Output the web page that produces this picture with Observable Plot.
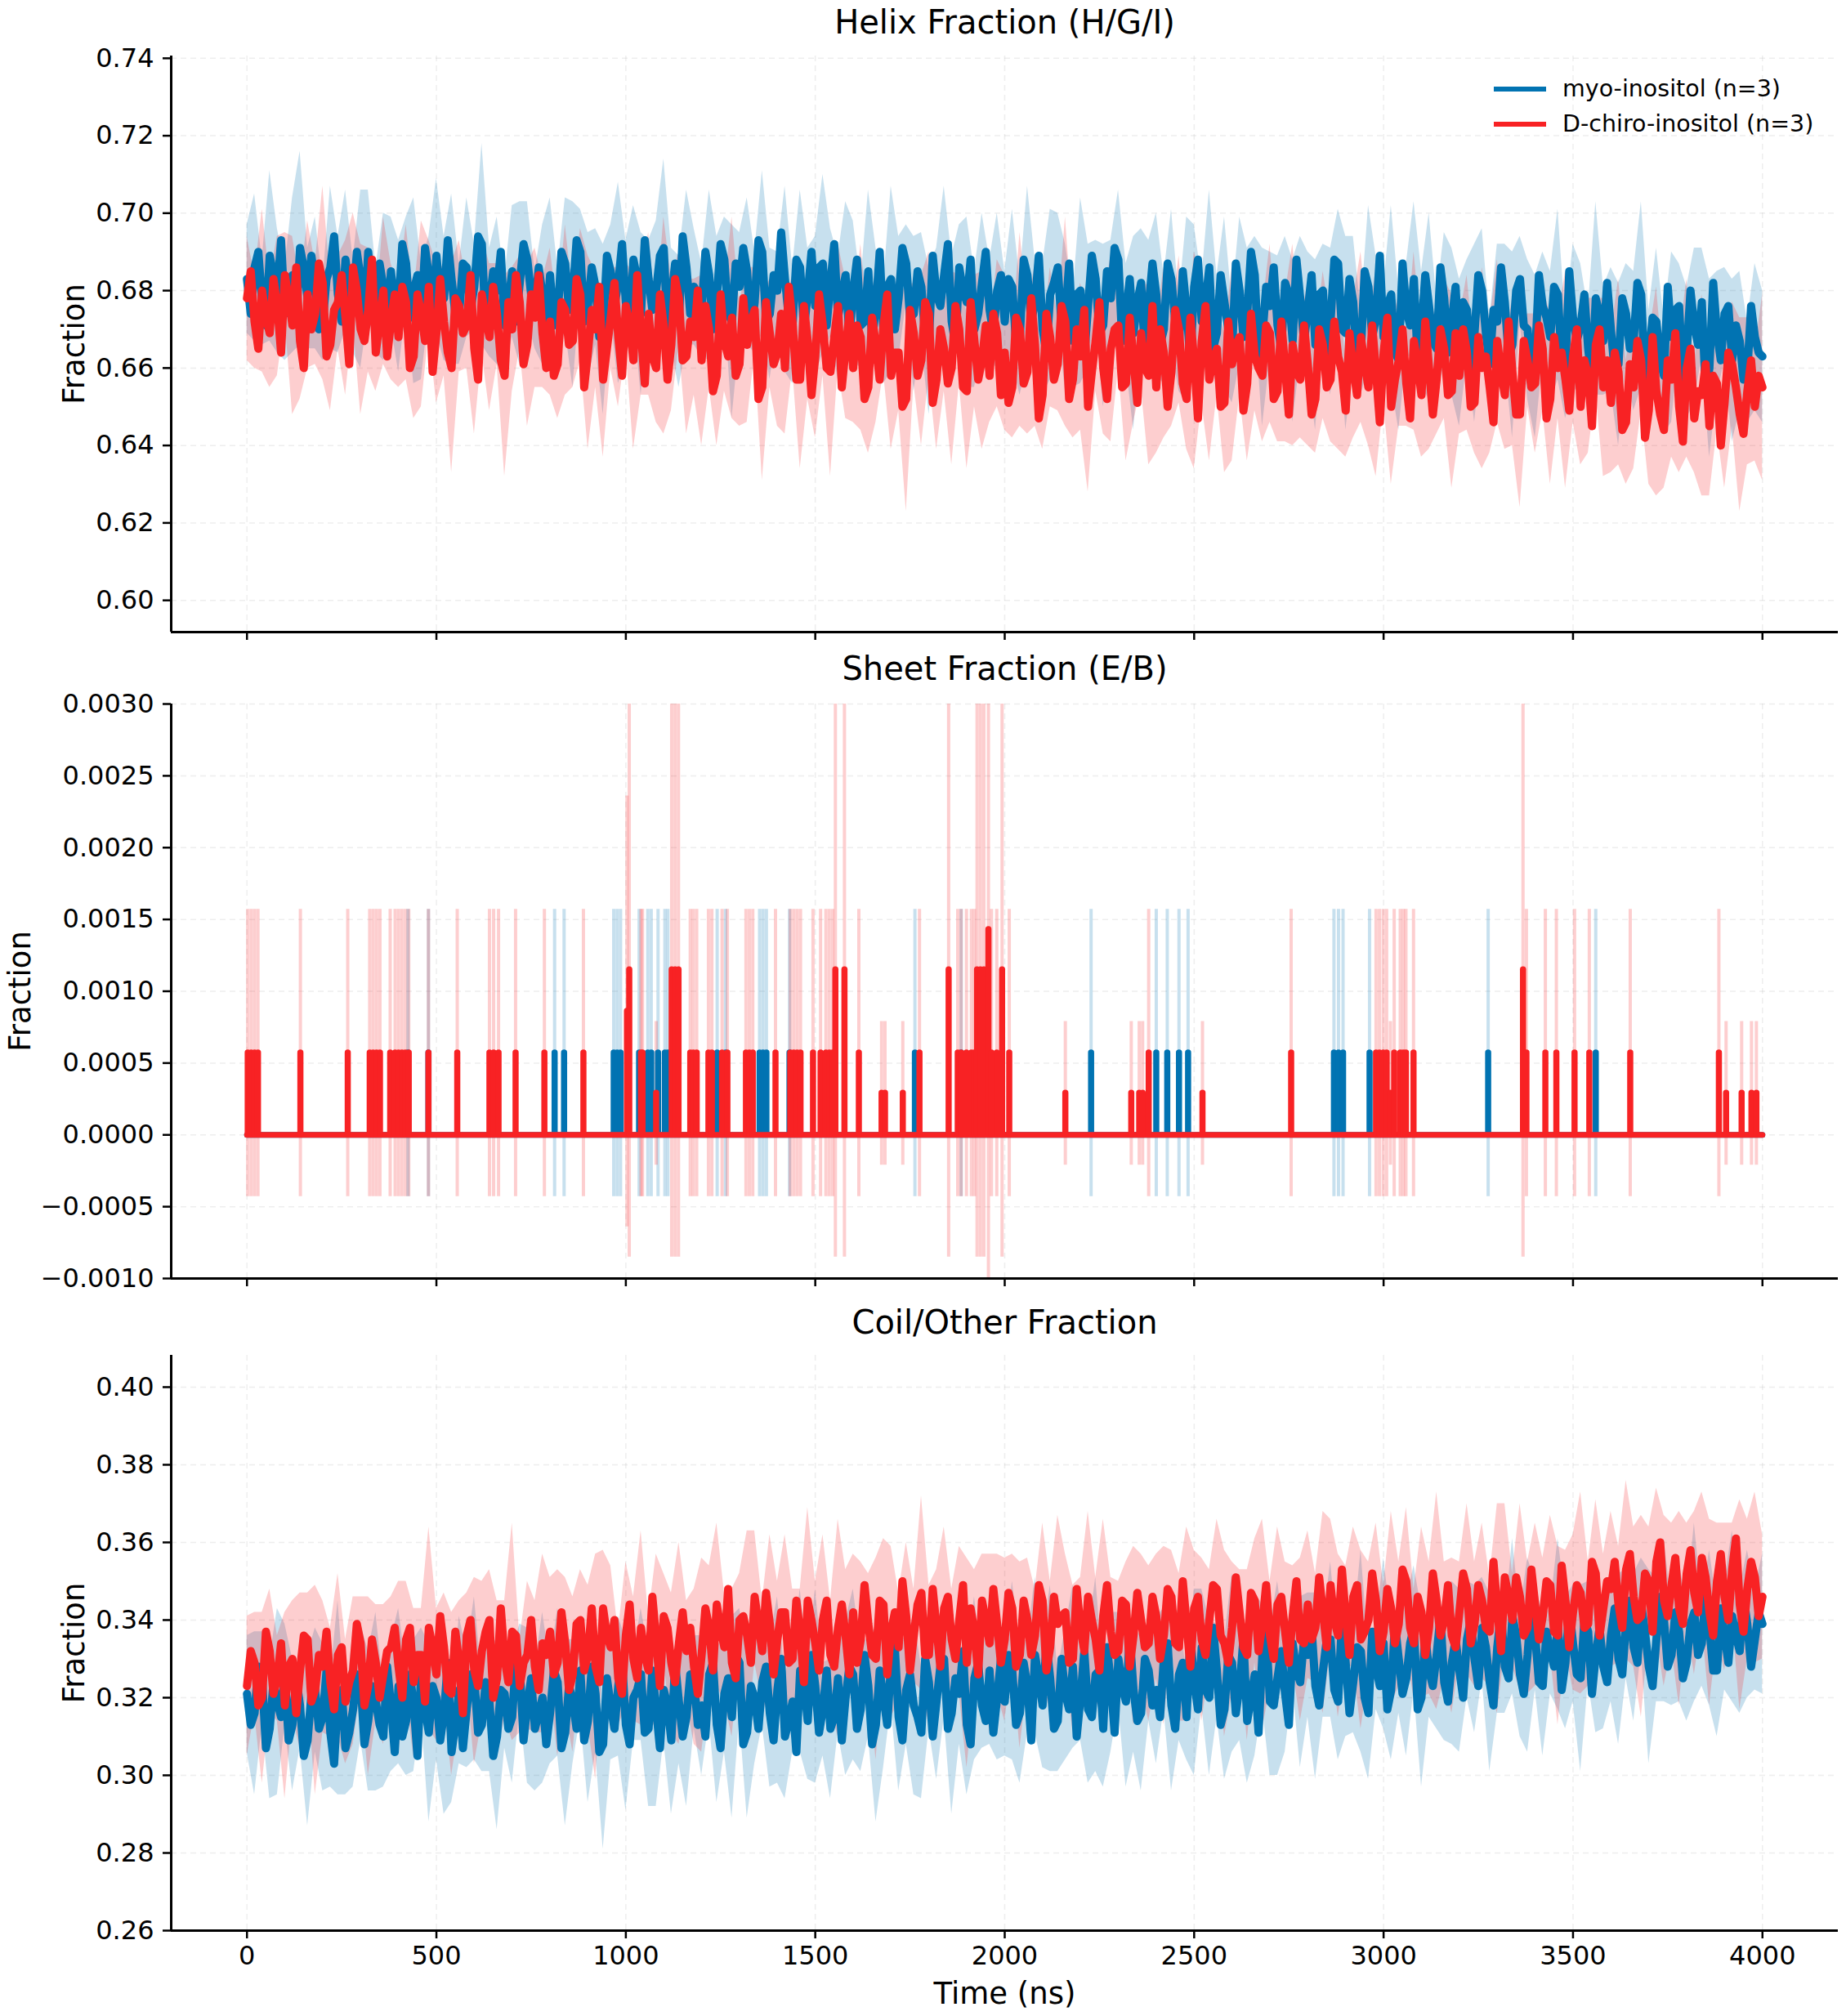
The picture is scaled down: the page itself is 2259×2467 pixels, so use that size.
<!DOCTYPE html>
<html>
<head>
<meta charset="utf-8">
<script src="https://cdn.jsdelivr.net/npm/d3@7"></script>
<script src="https://cdn.jsdelivr.net/npm/@observablehq/plot@0.6"></script>
<style>
  html, body { margin: 0; padding: 0; background: #fff; }
  #wrap { position: relative; width: 2259px; height: 2467px; font-family: "DejaVu Sans", sans-serif; }
  #wrap svg { display: block; }
  .legend { position: absolute; left: 1828px; top: 88px; font-size: 28.5px; color: #000; line-height: 42.5px; }
  .legend .row { display: flex; align-items: center; height: 42.5px; }
  .legend .sw { width: 64px; height: 6px; margin-right: 20px; }
</style>
</head>
<body>
<div id="wrap"></div>
<script>
// ---------------- data ----------------
const seriesNames = ["myo-inositol (n=3)", "D-chiro-inositol (n=3)"];
const colors = ["#0173b2", "#f82224"];
const timeTicks = [0, 500, 1000, 1500, 2000, 2500, 3000, 3500, 4000];
const timeDomain = [-200, 4200];
const helixTicks = [0.60, 0.62, 0.64, 0.66, 0.68, 0.70, 0.72, 0.74];
const helixDomain = [0.5918, 0.7406];
const sheetTicks = [-0.0010, -0.0005, 0.0000, 0.0005, 0.0010, 0.0015, 0.0020, 0.0025, 0.0030];
const sheetDomain = [-0.001, 0.003];
const coilTicks = [0.26, 0.28, 0.30, 0.32, 0.34, 0.36, 0.38, 0.40];
const coilDomain = [0.26, 0.4082];

// sampling times (ns): means every 10 ns, spreads every 20 ns
const time10 = d3.range(0, 4001, 10);
const time20 = d3.range(0, 4001, 20);

// helix fraction, mean of replicates (x 1/1000), every 10 ns
const helixMyo = [
683,674,686,690,677,671,689,684,680,693,674,676,684,672,691,686,678,689,682,670,672,683,686,694,679,672,688,681,676,690,683,673,690,679,675,687,681,670,685,676,
676,692,687,673,680,684,672,691,684,670,689,679,678,693,683,674,674,687,686,675,681,694,692,671,677,685,680,690,671,677,685,672,682,692,688,679,675,686,679,670,
684,671,673,690,687,675,679,693,690,672,676,686,681,668,670,689,685,676,682,692,677,671,688,683,674,693,683,675,680,689,691,670,678,687,672,694,686,674,681,679,
675,690,684,670,678,692,688,674,672,687,681,691,685,669,677,693,690,672,674,684,680,695,683,673,671,688,686,670,679,690,676,686,687,671,682,692,673,679,684,668,
680,688,671,672,685,667,676,690,669,681,683,670,678,691,687,673,674,685,681,668,667,689,679,676,684,692,672,666,686,680,677,688,670,674,682,690,675,669,680,684,
672,683,681,666,668,688,684,672,677,689,670,664,679,682,686,671,673,687,667,679,680,663,676,689,683,669,671,685,678,691,688,667,674,683,669,677,682,664,676,687,
679,666,670,687,683,672,666,685,675,662,681,688,672,677,686,665,669,684,677,670,664,687,680,668,674,690,684,663,668,681,676,686,671,665,682,679,667,688,678,667,
675,684,666,679,680,663,672,688,687,670,669,683,677,660,664,685,681,668,673,689,668,676,679,664,662,687,675,671,683,662,670,684,676,667,665,686,678,664,672,681,
664,677,675,660,669,684,680,669,661,675,672,686,677,663,666,680,683,671,670,659,663,684,676,673,668,681,679,662,660,685,673,667,671,679,665,656,678,674,667,682,
670,659,661,678,674,665,667,682,679,657,663,673,672,662,658,681,668,675,676,657,664,680,671,666,677,654,660,682,669,662,674,676,662,671,667,657,659,676,668,664,
663];
const helixChiro = [
678,685,672,665,680,673,669,683,676,664,684,678,671,686,667,660,679,670,674,687,682,663,666,675,677,684,673,661,686,680,670,667,675,688,664,672,680,663,672,679,
668,681,677,660,663,679,674,667,681,659,669,683,672,664,660,678,676,669,671,684,665,657,679,673,668,681,674,662,658,677,670,684,677,661,666,679,673,684,669,660,
672,658,661,677,675,666,667,683,679,655,664,675,670,681,657,665,673,682,668,658,676,671,662,684,669,656,674,663,660,679,671,657,666,683,678,662,663,672,668,680,
662,676,670,654,658,679,667,663,673,658,661,678,666,672,675,652,655,677,669,661,664,674,660,681,672,657,657,676,667,653,663,679,671,660,659,668,676,655,665,674,
660,671,668,652,655,673,666,657,671,679,658,664,664,650,652,675,669,658,662,677,674,651,657,670,665,656,660,676,670,655,654,677,667,657,662,671,658,674,669,653,
664,651,655,673,670,656,659,678,666,647,653,674,668,657,661,676,672,652,657,670,663,675,650,659,667,677,660,652,665,670,671,655,656,673,662,651,669,660,658,676,
655,670,664,650,659,675,670,656,652,673,662,647,667,676,657,662,665,650,651,672,661,666,668,649,656,674,663,660,658,671,669,652,654,672,660,648,666,659,657,671,
661,648,652,670,666,655,657,672,663,659,649,669,660,653,668,661,655,671,659,646,664,673,650,657,662,670,656,647,667,661,653,672,660,648,657,670,665,653,654,669,
658,670,664,650,651,668,660,663,655,646,667,659,653,672,659,648,648,667,662,655,656,671,665,647,652,668,660,664,657,649,663,670,650,662,658,645,666,670,655,662,
651,664,659,644,646,661,655,667,662,642,649,668,654,648,644,662,657,669,650,641,660,665,647,654,653,661,645,658,656,640,651,664,661,655,648,643,654,662,650,658,
655];
// helix fraction, standard deviation across replicates (x 1/1000), every 20 ns
const helixSdMyo = [
14,19,11,22,16,12,20,25,13,17,10,21,15,18,12,23,16,11,19,14,
17,12,24,15,10,20,16,22,13,18,11,26,14,19,12,17,21,15,10,18,
20,13,17,24,11,19,15,22,12,26,16,14,21,10,18,23,13,17,20,15,
12,22,16,11,25,14,19,13,21,17,10,24,15,20,12,18,23,14,16,19,
18,11,21,15,13,24,16,10,20,14,19,12,23,17,11,22,15,18,13,20,
13,20,15,23,11,17,22,14,19,12,24,16,10,21,15,18,13,25,14,17,
21,14,18,12,24,16,11,20,15,22,13,19,17,10,23,14,18,12,21,16,
15,22,12,19,14,25,17,11,21,16,13,23,18,12,20,15,24,13,17,19,
19,13,23,16,12,20,15,24,11,18,21,14,17,22,13,19,16,10,25,14,
16,21,13,18,24,12,19,15,22,11,17,20,14,23,16,12,21,18,13,19,
17];
const helixSdChiro = [
16,12,21,14,18,11,23,15,19,13,25,17,12,20,14,22,16,10,19,15,
13,20,16,24,12,18,14,27,17,11,22,15,19,13,26,16,12,21,18,14,
19,14,22,12,17,25,15,20,13,18,11,23,16,21,14,28,17,12,20,15,
22,15,18,13,26,16,20,11,24,14,19,17,12,23,15,21,13,27,16,18,
14,24,17,20,12,19,15,29,13,22,16,18,11,25,14,20,17,23,12,19,
20,13,25,16,21,14,18,12,27,15,19,22,13,17,24,11,20,16,14,23,
17,22,14,19,13,28,16,21,12,18,25,15,20,14,17,23,13,19,26,15,
21,14,19,16,24,12,18,22,15,27,13,20,17,11,23,16,21,14,18,25,
15,20,13,26,17,21,14,19,24,12,18,16,22,13,28,17,15,20,12,23,
18,24,16,21,13,19,27,15,20,17,23,14,26,18,12,22,16,25,19,14,
24];

// coil/other fraction, mean of replicates (x 1/1000), every 10 ns
const coilMyo = [
321,313,316,328,325,307,312,324,319,315,326,309,313,325,318,305,309,321,322,312,315,327,311,303,320,322,307,311,317,326,324,308,314,323,319,313,310,328,318,306,
323,310,314,326,318,305,327,317,311,323,320,309,316,329,306,313,322,307,317,326,325,311,313,324,319,305,310,322,321,312,315,330,328,309,318,325,312,316,320,308,
316,327,324,307,311,323,319,312,327,309,314,328,321,306,308,325,318,312,323,330,313,308,320,322,326,311,312,327,317,307,322,318,309,329,319,310,315,326,324,313,
318,310,326,329,313,307,321,325,315,331,329,308,311,323,320,312,324,328,316,309,322,330,310,314,319,306,327,324,314,331,323,311,317,327,312,315,325,309,320,328,
326,312,317,331,323,308,313,327,320,313,329,333,315,309,322,326,318,315,311,330,324,310,319,328,330,312,316,325,321,332,313,308,325,329,318,314,327,311,320,330,
319,331,327,313,316,329,323,309,331,325,318,334,325,312,314,330,321,317,328,310,320,332,317,315,326,327,312,333,324,311,330,323,319,336,322,314,316,330,327,318,
322,315,330,334,318,312,326,329,315,336,324,317,333,322,320,338,327,313,317,331,329,316,323,335,314,320,326,311,331,337,319,318,325,332,321,313,334,327,324,335,
331,338,323,318,327,335,335,322,319,340,329,316,324,333,332,320,316,337,328,323,334,317,322,339,330,321,325,334,338,317,320,336,327,323,331,341,324,319,329,335,
327,320,335,340,330,323,338,333,324,318,333,342,328,325,341,336,326,321,331,344,336,324,323,337,332,328,339,322,329,343,334,326,325,340,337,321,331,338,328,324,
336,343,330,326,339,345,333,329,344,337,328,323,335,346,340,328,331,342,337,325,329,339,342,331,334,347,338,327,327,343,336,329,341,336,332,346,339,328,335,342,
339];
const coilChiro = [
323,332,329,318,320,337,332,321,325,334,318,328,330,316,327,336,335,319,322,331,328,337,324,317,331,333,319,324,327,339,334,318,323,335,329,320,326,332,333,338,
328,320,335,338,324,331,331,319,338,333,326,341,333,322,321,337,329,316,336,340,327,323,332,337,340,320,325,343,330,324,337,336,323,329,331,340,328,322,334,331,
337,326,329,342,334,322,326,339,340,327,331,343,328,324,343,336,333,340,325,321,336,344,330,325,338,331,327,346,335,323,341,338,329,324,334,342,332,338,328,321,
331,343,338,327,344,338,333,348,329,325,340,341,336,329,346,339,332,347,339,326,335,342,342,329,330,345,337,324,345,340,334,327,340,345,331,328,338,344,336,326,
342,329,335,349,339,331,330,345,344,326,337,342,333,350,341,327,336,344,347,331,331,348,338,328,343,346,335,330,340,349,329,343,337,326,345,340,334,348,339,329,
335,347,343,328,331,345,340,331,336,349,345,327,333,346,339,341,342,329,330,348,338,332,346,340,335,327,341,349,337,331,332,345,344,328,336,347,340,333,334,346,
341,330,336,348,346,334,333,350,339,328,343,346,335,331,340,349,348,336,334,329,338,351,342,333,331,347,345,332,339,349,336,330,344,346,337,329,341,350,335,334,
344,335,338,351,342,333,349,340,336,353,341,331,346,349,335,337,340,352,345,332,337,348,343,334,339,353,350,338,334,346,342,331,338,352,345,336,340,349,336,333,
342,352,348,334,339,349,345,338,337,355,343,332,351,346,340,351,346,336,338,353,344,335,341,350,349,337,336,354,345,333,342,349,347,338,339,355,352,336,343,350,
348,355,344,338,353,357,346,340,341,352,350,337,355,360,345,341,349,356,343,339,352,358,347,342,356,351,342,336,350,357,346,340,353,361,344,337,348,355,351,341,
346];
// coil/other fraction, standard deviation (x 1/1000), every 20 ns
const coilSdMyo = [
15,21,12,18,24,13,17,11,22,16,19,14,25,12,20,15,18,23,13,17,
20,14,17,11,23,16,26,13,19,15,21,12,18,24,14,17,11,20,16,22,
13,19,24,16,12,21,15,27,14,18,22,11,17,20,25,13,19,16,23,12,
18,12,20,15,26,14,22,17,11,19,24,16,13,21,15,25,12,18,14,20,
22,16,13,25,18,11,19,14,23,17,12,20,15,26,13,18,21,11,19,16,
14,23,18,12,20,16,24,13,17,21,11,19,25,15,18,12,22,16,20,13,
19,13,22,17,11,24,15,20,12,18,23,14,16,21,13,19,25,15,11,22,
16,24,12,20,15,19,13,26,17,11,22,18,14,20,16,23,12,19,15,21,
21,15,19,13,23,17,12,20,16,25,14,18,11,22,17,15,24,13,20,16,
17,22,14,19,12,25,16,21,13,18,15,23,11,20,17,14,22,16,19,13,
18];
const coilSdChiro = [
18,13,22,16,11,24,15,20,12,27,17,14,21,16,19,12,23,15,18,13,
22,15,19,12,26,17,14,21,16,11,24,18,13,20,15,28,12,19,17,23,
14,24,17,20,13,18,29,15,21,12,19,16,25,14,22,11,18,26,13,20,
25,16,21,14,19,12,27,17,13,23,15,20,18,11,24,16,22,14,28,17,
15,20,13,26,17,22,14,19,12,25,18,15,21,13,19,27,16,12,23,18,
21,14,24,16,12,20,17,28,15,19,13,22,16,25,14,18,11,23,17,20,
16,23,12,19,25,15,21,13,18,24,17,11,22,16,27,14,20,18,13,21,
19,14,26,17,21,13,18,23,15,20,12,25,16,19,14,22,17,28,15,20,
13,22,16,20,14,27,19,12,24,17,21,15,18,23,13,20,26,16,19,14,
20,15,23,18,26,14,19,22,16,25,13,21,17,24,15,19,12,27,18,22,
16];

// sheet fraction: frames where the mean is non-zero (time ns, mean and sd x 1e-5)
const sheetMyoT  = [425,479,812,837,968,977,986,1035,1058,1067,1085,1103,1111,1241,1263,1353,1362,1371,1432,1763,1885,2228,2400,2429,2460,2484,2869,2881,2893,2963,3276,3560];
const sheetMyoV  = [57,57,57,57,57,57,57,57,57,57,57,57,57,57,57,57,57,57,57,57,57,57,57,57,57,57,57,57,57,57,57,57];
const sheetMyoSd = [100,100,100,100,100,100,100,100,100,100,100,100,100,100,100,100,100,100,100,100,100,100,100,100,100,100,100,100,100,100,100,100];
const sheetChiroT = [
2,11,20,29,141,266,324,333,342,351,378,391,400,409,418,427,479,555,640,651,664,709,785,888,
1003,1009,1040,1044,1080,1121,1130,1139,1170,1178,1187,1218,1227,1254,1268,1317,1326,1335,
1395,1434,1443,1452,1461,1494,1514,1528,1537,1546,1553,1577,1615,1675,1684,1731,1775,1852,
1876,1885,1899,1912,1920,1927,1936,1945,1957,1965,1979,1993,2012,2160,2334,2355,2364,2380,2522,
2756,2980,2989,2999,3008,3018,3028,3044,3052,3059,3079,3368,3377,3427,3456,3504,3543,3651,
3885,3904,3945,3971,3984];
const sheetChiroV = [
57,57,57,57,57,57,57,57,57,57,57,57,57,57,57,57,57,57,57,57,57,57,57,57,
86,115,57,57,29,115,115,115,57,57,57,57,57,57,57,57,57,57,
57,57,57,57,57,57,57,57,57,57,115,115,57,29,29,29,57,115,
57,57,57,57,57,115,115,115,143,57,57,115,57,29,29,29,29,57,29,
57,57,57,57,57,29,57,57,57,57,57,115,57,57,57,57,57,57,
57,29,29,29,29];
const sheetChiroSd = [
100,100,100,100,100,100,100,100,100,100,100,100,100,100,100,100,100,100,100,100,100,100,100,100,
150,200,100,100,50,200,200,200,100,100,100,100,100,100,100,100,100,100,
100,100,100,100,100,100,100,100,100,100,200,200,100,50,50,50,100,200,
100,100,100,100,100,200,200,200,250,100,100,200,100,50,50,50,50,100,50,
100,100,100,100,100,50,100,100,100,100,100,200,100,100,100,100,100,100,
100,50,50,50,50];

// ---------------- tables ----------------
const meanRows = (myo, chiro) => time10.map((t, i) => ({t, myo: myo[i] / 1000, chiro: chiro[i] / 1000}));
// spread band: mean at the 20-ns samples (every other 10-ns value) +/- sd
const bandRows = (mean, sd) => time20.map((t, i) => ({t, lo: (mean[2 * i] - sd[i]) / 1000, hi: (mean[2 * i] + sd[i]) / 1000}));
const helixMeans = meanRows(helixMyo, helixChiro);
const coilMeans = meanRows(coilMyo, coilChiro);
const helixBands = [bandRows(helixMyo, helixSdMyo), bandRows(helixChiro, helixSdChiro)];
const coilBands = [bandRows(coilMyo, coilSdMyo), bandRows(coilChiro, coilSdChiro)];
const sheetBase = time20.map(t => ({t, v: 0}));
const sheetMyo = sheetMyoT.map((t, i) => ({t, v: sheetMyoV[i] * 1e-5, sd: sheetMyoSd[i] * 1e-5}));
const sheetChiro = sheetChiroT.map((t, i) => ({t, v: sheetChiroV[i] * 1e-5, sd: sheetChiroSd[i] * 1e-5}));

// ---------------- drawing ----------------
const W = 2259, ML = 209, MR = 10;
const FONT = "DejaVu Sans";
const gridStyle = {stroke: "#b0b0b0", strokeOpacity: 0.22, strokeWidth: 1.5, strokeDasharray: "7,5"};
const bandOpacity = 0.22;
const meanWidth = 10;

function frameParts(yTicks, yDomain, yFmt, labelDx, title, titleDy, showXLabels) {
  return [
    Plot.axisY(yTicks, {tickFormat: yFmt, tickSize: 10, tickPadding: 11, fontSize: 32, strokeWidth: 2.5, label: null}),
    Plot.axisX(timeTicks, {tickFormat: showXLabels ? d3.format("d") : () => "", tickSize: 10, tickPadding: 9,
      fontSize: 32, strokeWidth: 2.5, label: null}),
    Plot.ruleX([timeDomain[0]], {stroke: "#000", strokeWidth: 3}),
    Plot.ruleY([yDomain[0]], {stroke: "#000", strokeWidth: 3}),
    Plot.text(["Fraction"], {text: d => d, frameAnchor: "left", rotate: -90, dx: labelDx, fontSize: 37,
      textAnchor: "middle", lineAnchor: "middle"}),
    Plot.text([title], {text: d => d, frameAnchor: "top", dy: titleDy, fontSize: 40, lineAnchor: "middle"})
  ];
}

function seriesPanel(means, bands, yTicks, yDomain, title, titleDy, height, mt, mb, showXLabels) {
  return Plot.plot({
    width: W, height, marginLeft: ML, marginRight: MR, marginTop: mt, marginBottom: mb,
    style: {fontFamily: FONT, color: "#000", background: "#fff", overflow: "visible"},
    x: {domain: timeDomain},
    y: {domain: yDomain},
    marks: [
      Plot.gridX(timeTicks, gridStyle),
      Plot.gridY(yTicks, gridStyle),
      Plot.areaY(bands[0], {x: "t", y1: "lo", y2: "hi", fill: colors[0], fillOpacity: bandOpacity, clip: true}),
      Plot.areaY(bands[1], {x: "t", y1: "lo", y2: "hi", fill: colors[1], fillOpacity: bandOpacity, clip: true}),
      Plot.lineY(means, {x: "t", y: "myo", stroke: colors[0], strokeWidth: meanWidth, strokeLinejoin: "round", strokeLinecap: "round"}),
      Plot.lineY(means, {x: "t", y: "chiro", stroke: colors[1], strokeWidth: meanWidth, strokeLinejoin: "round", strokeLinecap: "round"}),
      ...frameParts(yTicks, yDomain, d3.format(".2f"), -118, title, titleDy, showXLabels),
      ...(showXLabels ? [Plot.text(["Time (ns)"], {text: d => d, frameAnchor: "bottom", dy: 78, fontSize: 37, lineAnchor: "middle"})] : [])
    ]
  });
}

const helixPlot = seriesPanel(helixMeans, helixBands, helixTicks, helixDomain, "Helix Fraction (H/G/I)", -40, 800, 68, 27, false);

const sheetPlot = Plot.plot({
  width: W, height: 790, marginLeft: ML, marginRight: MR, marginTop: 61, marginBottom: 26,
  style: {fontFamily: FONT, color: "#000", background: "#fff", overflow: "visible"},
  x: {domain: timeDomain},
  y: {domain: sheetDomain},
  marks: [
    Plot.gridX(timeTicks, gridStyle),
    Plot.gridY(sheetTicks, gridStyle),
    Plot.ruleX(sheetMyo, {x: "t", y1: d => d.v - d.sd, y2: d => d.v + d.sd, stroke: colors[0], strokeOpacity: bandOpacity, strokeWidth: 4, clip: true}),
    Plot.ruleX(sheetChiro, {x: "t", y1: d => d.v - d.sd, y2: d => d.v + d.sd, stroke: colors[1], strokeOpacity: bandOpacity, strokeWidth: 4, clip: true}),
    Plot.lineY(sheetBase, {x: "t", y: "v", stroke: colors[0], strokeWidth: 7}),
    Plot.ruleX(sheetMyo, {x: "t", y1: 0, y2: "v", stroke: colors[0], strokeWidth: 7.5, strokeLinecap: "round"}),
    Plot.lineY(sheetBase, {x: "t", y: "v", stroke: colors[1], strokeWidth: 7, strokeLinecap: "round"}),
    Plot.ruleX(sheetChiro, {x: "t", y1: 0, y2: "v", stroke: colors[1], strokeWidth: 7.5, strokeLinecap: "round"}),
    ...frameParts(sheetTicks, sheetDomain, d3.format(".4f"), -184, "Sheet Fraction (E/B)", -42, false)
  ]
});

const coilPlot = seriesPanel(coilMeans, coilBands, coilTicks, coilDomain, "Coil/Other Fraction", -39, 877, 68, 105, true);

const wrap = document.getElementById("wrap");
wrap.append(helixPlot, sheetPlot, coilPlot);

// legend (upper right of the first panel)
const legend = document.createElement("div");
legend.className = "legend";
seriesNames.forEach((name, i) => {
  const row = document.createElement("div");
  row.className = "row";
  const sw = document.createElement("div");
  sw.className = "sw";
  sw.style.background = colors[i];
  const label = document.createElement("span");
  label.textContent = name;
  row.append(sw, label);
  legend.append(row);
});
wrap.append(legend);
</script>
</body>
</html>
